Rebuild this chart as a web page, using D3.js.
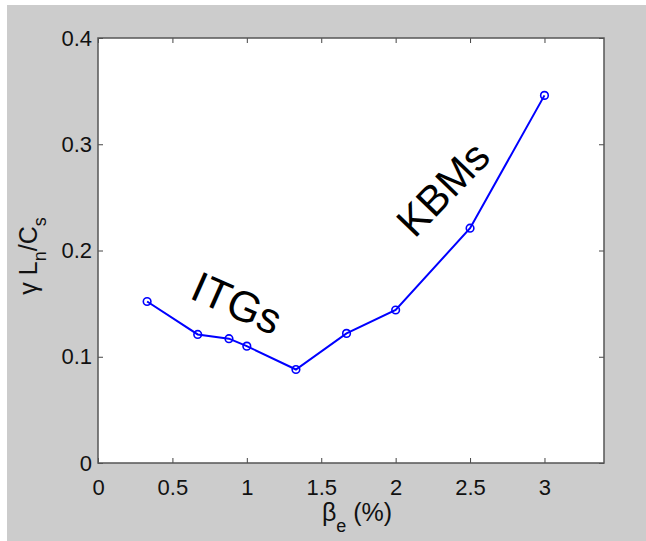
<!DOCTYPE html>
<html>
<head>
<meta charset="utf-8">
<script src="https://cdn.jsdelivr.net/npm/d3@7"></script>
<style>
  html, body { margin: 0; padding: 0; background: #fff; }
  svg { display: block; font-family: "Liberation Sans", Arial, Helvetica, sans-serif; }
</style>
</head>
<body>
<div id="svg-container"></div>
<script>
// data
const betaE = [0.33, 0.67, 0.88, 1.0, 1.33, 1.67, 2.0, 2.5, 3.0];
const growth = [0.152, 0.121, 0.117, 0.110, 0.088, 0.122, 0.144, 0.221, 0.346];
const xTicks = [0, 0.5, 1, 1.5, 2, 2.5, 3];
const yTicks = [0, 0.1, 0.2, 0.3, 0.4];

const width = 646;
const height = 541;
const margin = { top: 38, right: 42, bottom: 78, left: 98 };

const svg = d3.select("#svg-container").append("svg")
  .attr("width", width)
  .attr("height", height);

// figure background
svg.append("rect")
  .attr("x", 7).attr("y", 5)
  .attr("width", width - 7).attr("height", height - 5)
  .attr("fill", "#cccccc");

// scales
const xScale = d3.scaleLinear().domain([0, 3.4]).range([margin.left, width - margin.right]);
const yScale = d3.scaleLinear().domain([0, 0.4]).range([height - margin.bottom, margin.top]);

// plot area
svg.append("rect")
  .attr("x", xScale(0)).attr("y", yScale(0.4))
  .attr("width", xScale(3.4) - xScale(0))
  .attr("height", yScale(0) - yScale(0.4))
  .attr("fill", "#fff");

const fmt = d3.format("");

// axes (ticks inside, mirrored on top/right)
const xAxis = d3.axisBottom(xScale).tickValues(xTicks).tickSize(-5).tickPadding(16).tickFormat(fmt);
const yAxis = d3.axisLeft(yScale).tickValues(yTicks).tickSize(-5).tickPadding(6).tickFormat(fmt);
const xTop = d3.axisTop(xScale).tickValues(xTicks).tickSize(-5).tickFormat("");
const yRight = d3.axisRight(yScale).tickValues(yTicks).tickSize(-5).tickFormat("");

function styleAxis(g) {
  g.select(".domain").remove();
  g.selectAll(".tick line").attr("stroke", "#444").attr("stroke-width", 1);
  g.selectAll(".tick text").attr("fill", "#111").style("font-size", "22px");
}

svg.append("g").attr("transform", `translate(0,${yScale(0)})`).call(xAxis).call(styleAxis);
svg.append("g").attr("transform", `translate(${xScale(0)},0)`).call(yAxis).call(styleAxis);
svg.append("g").attr("transform", `translate(0,${yScale(0.4)})`).call(xTop).call(styleAxis);
svg.append("g").attr("transform", `translate(${xScale(3.4)},0)`).call(yRight).call(styleAxis);

// frame
svg.append("rect")
  .attr("x", xScale(0)).attr("y", yScale(0.4))
  .attr("width", xScale(3.4) - xScale(0))
  .attr("height", yScale(0) - yScale(0.4))
  .attr("fill", "none")
  .attr("stroke", "#555")
  .attr("stroke-width", 1.5);

// line + markers
const pts = betaE.map((b, i) => ({ x: b, y: growth[i] }));
const line = d3.line().x(d => xScale(d.x)).y(d => yScale(d.y));

svg.append("path")
  .datum(pts)
  .attr("d", line)
  .attr("fill", "none")
  .attr("stroke", "#0000ff")
  .attr("stroke-width", 2);

svg.selectAll(".marker")
  .data(pts)
  .enter()
  .append("circle")
  .attr("class", "marker")
  .attr("cx", d => xScale(d.x))
  .attr("cy", d => yScale(d.y))
  .attr("r", 3.8)
  .attr("fill", "none")
  .attr("stroke", "#0000ff")
  .attr("stroke-width", 1.6);

// axis labels
const xLabel = svg.append("text")
  .attr("x", 357).attr("y", 521)
  .attr("text-anchor", "middle")
  .attr("fill", "#111")
  .style("font-size", "25px");
xLabel.append("tspan").text("β");
xLabel.append("tspan").attr("dy", 11).style("font-size", "18px").text("e");
xLabel.append("tspan").attr("dy", -11).text(" (%)");

const yLabel = svg.append("text")
  .attr("transform", "translate(37,256) rotate(-90)")
  .attr("text-anchor", "middle")
  .attr("fill", "#111")
  .style("font-size", "25px");
yLabel.append("tspan").text("γ L");
yLabel.append("tspan").attr("dy", 9).style("font-size", "18px").text("n");
yLabel.append("tspan").attr("dy", -9).text("/C");
yLabel.append("tspan").attr("dy", 9).style("font-size", "18px").text("s");

// annotations
svg.append("text")
  .attr("transform", "translate(237,303) rotate(24)")
  .attr("text-anchor", "middle")
  .attr("dominant-baseline", "central")
  .attr("fill", "#000")
  .style("font-size", "43px")
  .text("ITGs");

svg.append("text")
  .attr("transform", "translate(443,189) rotate(-46)")
  .attr("text-anchor", "middle")
  .attr("dominant-baseline", "central")
  .attr("fill", "#000")
  .style("font-size", "42px")
  .text("KBMs");
</script>
</body>
</html>
